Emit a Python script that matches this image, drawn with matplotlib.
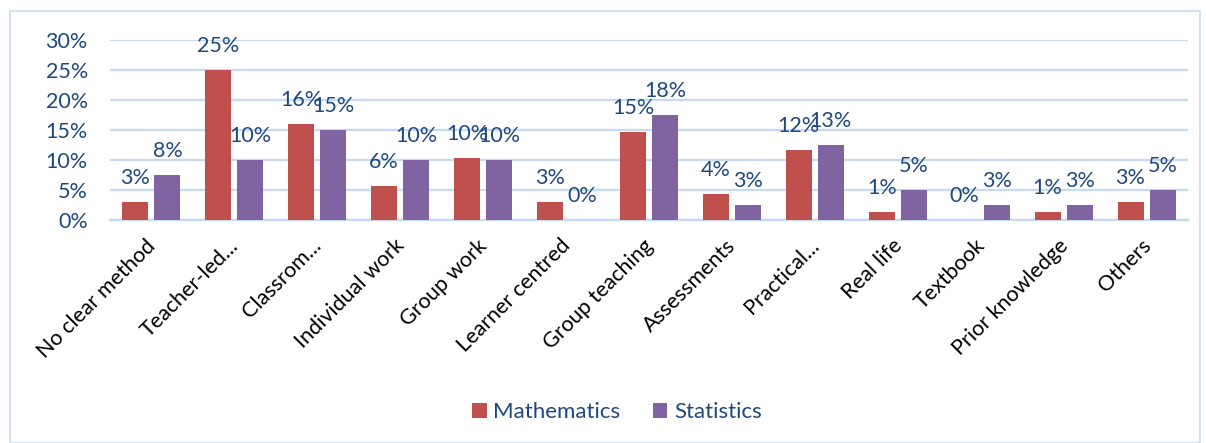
import matplotlib.pyplot as plt
import matplotlib.patches as patches
import matplotlib.transforms as mtransforms
import numpy as np

categories = ['No clear method', 'Teacher-led...', 'Classrom...', 'Individual work',
              'Group work', 'Learner centred', 'Group teaching', 'Assessments',
              'Practical...', 'Real life', 'Textbook', 'Prior knowledge', 'Others']
mathematics = [3.0, 25.0, 16.0, 5.7, 10.3, 3.0, 14.7, 4.3, 11.7, 1.3, 0.0, 1.3, 3.0]
statistics = [7.5, 10.0, 15.0, 10.0, 10.0, 0.0, 17.5, 2.5, 12.5, 5.0, 2.5, 2.5, 5.0]
yticks = [0, 5, 10, 15, 20, 25, 30]

red = '#C0504D'
purple = '#8064A2'
txt = '#1F497D'
grid = '#C8DAF0'
font = 'Lato'

plt.rcParams['font.family'] = [font, 'DejaVu Sans']

fig = plt.figure(figsize=(12.06, 4.43), dpi=100)
W, H = 1206, 443
ax = fig.add_axes([110 / W, 1 - 220 / H, (1188 - 110) / W, 180 / H])

# outer chart border
fig.patches.append(patches.Rectangle((10 / W, 0), 1190 / W, 1 - 11 / H, transform=fig.transFigure,
                                     fill=False, edgecolor='#D4E0F0', lw=1.5))

x = np.arange(len(categories))
w = 0.314
b1 = ax.bar(x - 0.193, mathematics, w, color=red, label='Mathematics', zorder=3)
b2 = ax.bar(x + 0.193, statistics, w, color=purple, label='Statistics', zorder=3)


def lab(v):
    return f'{int(v + 0.5)}%'


for bars, vals in [(b1, mathematics), (b2, statistics)]:
    for r, v in zip(bars, vals):
        ax.annotate(lab(v), (r.get_x() + r.get_width() / 2, v), xytext=(0, 13),
                    textcoords='offset points', ha='center', va='baseline',
                    fontsize=15.5, color=txt, zorder=4, annotation_clip=False)

ax.set_xlim(-0.5, len(categories) - 0.5)
ax.set_ylim(0, 30)
ax.set_yticks(yticks)
ax.set_yticklabels([f'{t}%' for t in yticks], fontsize=15.5, color=txt)
ax.yaxis.grid(True, color=grid, lw=1.7, zorder=0)
ax.set_axisbelow(True)
for s in ['top', 'right', 'left']:
    ax.spines[s].set_visible(False)
ax.spines['bottom'].set_color(grid)
ax.spines['bottom'].set_linewidth(1.7)
ax.tick_params(axis='y', length=0, pad=16)
ax.tick_params(axis='x', length=0, pad=4)
ax.set_xticks(x)
ax.set_xticklabels(categories, rotation=45, ha='right', va='top', rotation_mode='anchor',
                   fontsize=15.5, color='black')
shift = mtransforms.ScaledTranslation(-6 / 100, -10 / 100, fig.dpi_scale_trans)
for t in ax.get_xticklabels():
    t.set_transform(t.get_transform() + shift)

fig.legend(handles=[b1, b2], loc='center', bbox_to_anchor=(617 / W, 1 - 412 / H), ncol=2,
           frameon=False, fontsize=16, labelcolor=txt, handlelength=0.65, handleheight=0.65,
           handletextpad=0.3, columnspacing=1.45)

fig.savefig('out.png', dpi=100)
